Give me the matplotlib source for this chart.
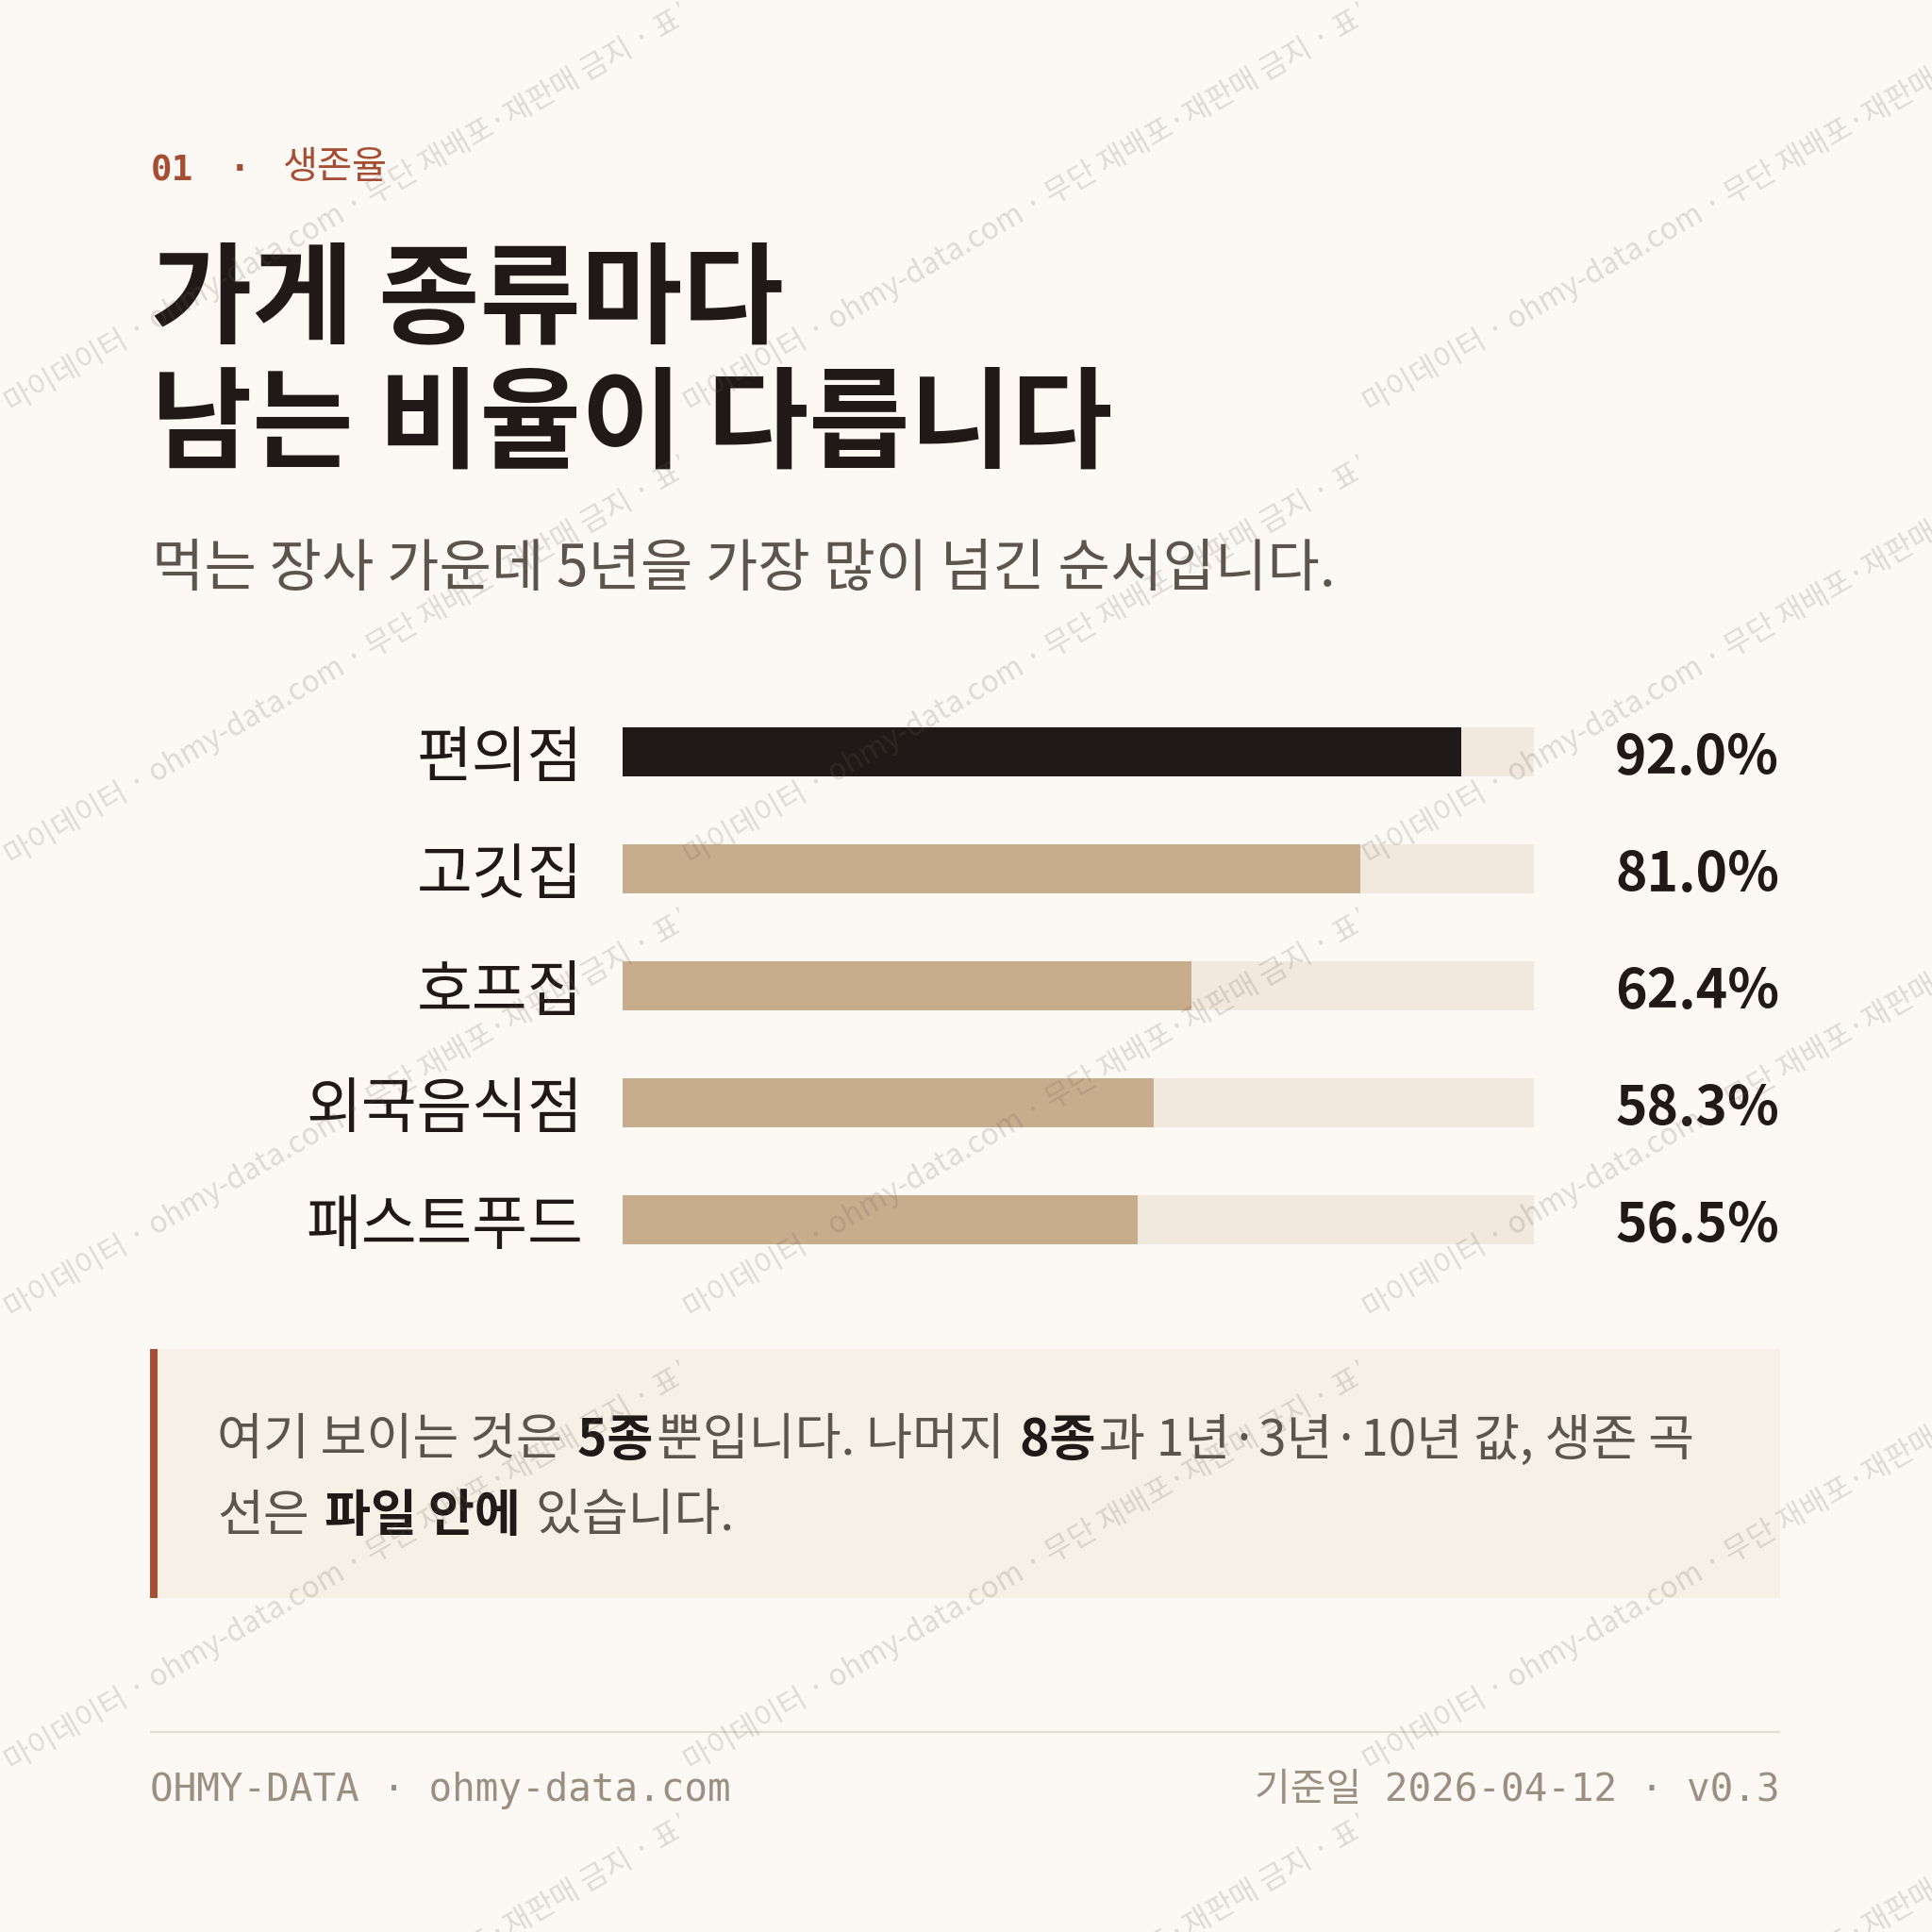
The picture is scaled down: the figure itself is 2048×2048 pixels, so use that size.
import matplotlib
matplotlib.use("Agg")
import matplotlib.pyplot as plt
from matplotlib.patches import Rectangle
from matplotlib.transforms import Bbox, ScaledTranslation
from matplotlib.text import Text

# ---------------- data ----------------
categories = ["편의점", "고깃집", "호프집", "외국음식점", "패스트푸드"]
survival_5y = [92.0, 81.0, 62.4, 58.3, 56.5]
highlight = "편의점"
value_labels = [f"{v:.1f}%" for v in survival_5y]

kicker_num = "01"
kicker_text = "생존율"
title_lines = ["가게 종류마다", "남는 비율이 다릅니다"]
subtitle = "먹는 장사 가운데 5년을 가장 많이 넘긴 순서입니다."
note_lines = [
    [("여기 보이는 것은", False), (" 5종", True), ("뿐입니다. 나머지", False),
     (" 8종", True), ("과 1년·3년·10년 값, 생존 곡", False)],
    [("선은", False), (" 파일 안에", True), (" 있습니다.", False)],
]
footer_left = "OHMY-DATA · ohmy-data.com"
footer_right = "기준일 2026-04-12 · v0.3"
watermark = "마이데이터 · ohmy-data.com · 무단 재배포·재판매 금지 · 표본 데이터"

# ---------------- style ----------------
KR = "Noto Sans CJK KR"
MONO = "DejaVu Sans Mono"
BG = "#fcf9f4"
DARK = "#1f1a17"
TAN = "#c8ad8d"
TRACK = "#f1e9dd"
RUST = "#a54e34"
GRAY = "#5c544d"
NOTE_BG = "#f7f0e6"
FOOT = "#9b8f82"
RULE = "#e4dccf"

W = H = 2048
fig = plt.figure(figsize=(20.48, 20.48), dpi=100)
fig.patch.set_facecolor(BG)

ov = fig.add_axes([0, 0, 1, 1])
ov.set_xlim(0, W)
ov.set_ylim(H, 0)
ov.axis("off")
ov.set_zorder(0)

renderer = fig.canvas.get_renderer()

# kicker
ov.text(160, 181, kicker_num, family=MONO, weight="bold", fontsize=27,
        color=RUST, ha="left", va="center")
ov.text(254, 181, "·", family=MONO, weight="bold", fontsize=27,
        color=RUST, ha="center", va="center")
ov.text(300, 178, kicker_text, family=KR, fontsize=29, color=RUST,
        ha="left", va="center")

# title
ov.text(160, 320, title_lines[0], family=KR, weight="bold", fontsize=84,
        color=DARK, ha="left", va="center")
ov.text(160, 453, title_lines[1], family=KR, weight="bold", fontsize=84,
        color=DARK, ha="left", va="center")

# subtitle
ov.text(161, 604, subtitle, family=KR, fontsize=43.4, color=GRAY,
        ha="left", va="center")

# note box
ov.add_patch(Rectangle((159, 1430), 1728, 264, facecolor=NOTE_BG,
                       edgecolor="none"))
ov.add_patch(Rectangle((159, 1430), 8, 264, facecolor=RUST, edgecolor="none"))
line_y = [1527, 1607]
for ly, segs in zip(line_y, note_lines):
    x = 230
    for s, bold in segs:
        t = ov.text(x, ly, s, family=KR, fontsize=38.3,
                    weight="bold" if bold else "normal",
                    color=DARK if bold else GRAY, ha="left", va="center")
        x += t.get_window_extent(renderer).width + 4

# footer
ov.plot([159, 1887], [1836, 1836], color=RULE, lw=1.6, solid_capstyle="butt")
ov.text(159, 1898, footer_left, family=[MONO, KR], fontsize=29.5, color=FOOT,
        ha="left", va="center")
ov.text(1887, 1898, footer_right, family=[MONO, KR], fontsize=29.5, color=FOOT,
        ha="right", va="center")

# ---------------- bars ----------------
x0, x1 = 660, 1626
pitch = 124
top_c = 797
n = len(categories)
ax_top = top_c - pitch / 2
ax_bot = top_c + pitch * (n - 0.5)
ax = fig.add_axes([x0 / W, 1 - ax_bot / H, (x1 - x0) / W, (ax_bot - ax_top) / H])
ax.set_zorder(1)
ax.set_facecolor("none")
ypos = list(range(n))
bh = 52 / pitch
ax.barh(ypos, [100] * n, height=bh, color=TRACK, edgecolor="none")
ax.barh(ypos, survival_5y, height=bh,
        color=[DARK if c == highlight else TAN for c in categories],
        edgecolor="none")
ax.set_xlim(0, 100)
ax.set_ylim(n - 0.5, -0.5)
ax.set_yticks(ypos)
ax.set_yticklabels(categories, family=KR, fontsize=46, color=DARK)
ax.tick_params(axis="y", length=0, pad=30)
ax.set_xticks([])
for sp in ax.spines.values():
    sp.set_visible(False)
val_tr = ax.get_yaxis_transform() + ScaledTranslation(0, -0.07, fig.dpi_scale_trans)
for yi, lab in zip(ypos, value_labels):
    ax.text((1886 - x0) / (x1 - x0), yi, lab, transform=val_tr,
            family=KR, weight="bold", fontsize=41, color=DARK,
            ha="right", va="center")

# ---------------- watermark ----------------
wm = fig.add_axes([0, 0, 1, 1])
wm.set_xlim(0, W)
wm.set_ylim(H, 0)
wm.axis("off")
wm.set_zorder(5)
wm.patch.set_alpha(0)
TW, TH = 720, 480
for i in range(3):
    for j in range(5):
        tx, ty = i * TW, j * TH
        t = Text(tx + 13, ty + 438, watermark, family=KR, fontsize=22.6,
                 color=(0.40, 0.37, 0.34), alpha=0.2, rotation=30,
                 rotation_mode="anchor", ha="left", va="baseline")
        wm._add_text(t)
        t.set_clip_path(None)
        t.set_clip_box(Bbox.from_extents(tx, H - ty - TH, tx + TW, H - ty))
        t.set_clip_on(True)

fig.savefig("out.png", dpi=100, facecolor=BG)
